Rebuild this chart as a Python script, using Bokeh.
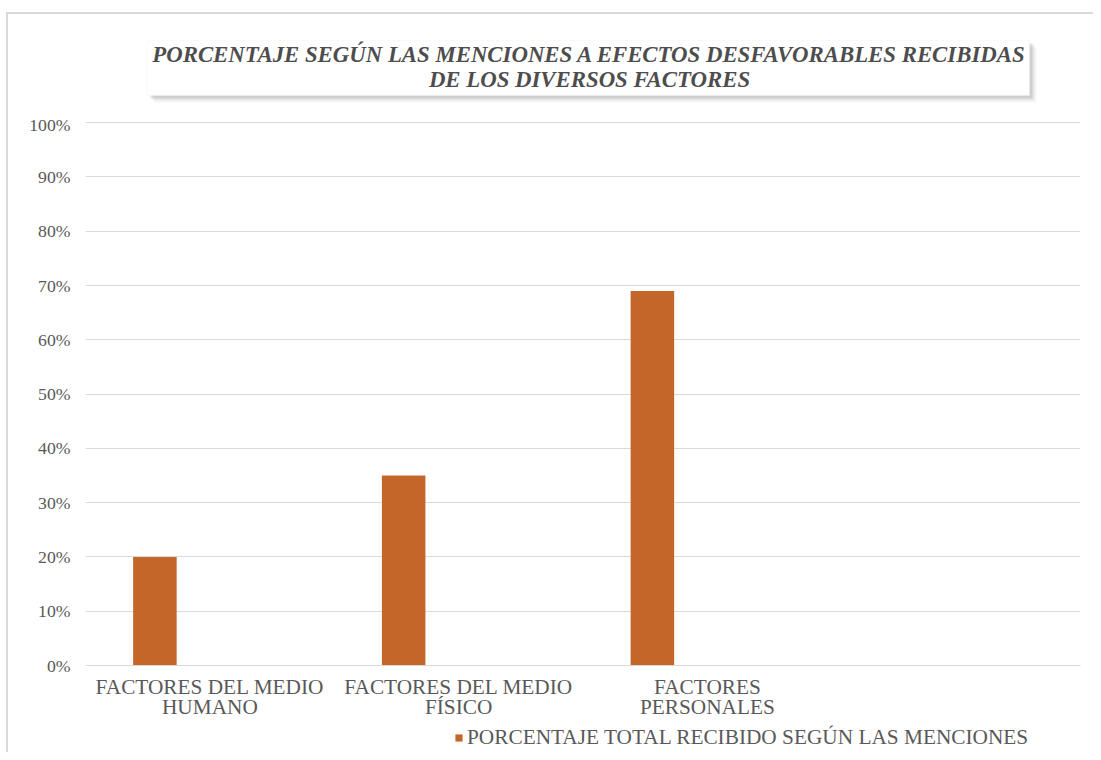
from bokeh.plotting import figure
from bokeh.layouts import column
from bokeh.models import (Range1d, FixedTicker, NumeralTickFormatter, Label,
                          BoxAnnotation, Legend, LegendItem, ColumnDataSource)
from bokeh.transform import dodge
from bokeh.embed import file_html
from bokeh.resources import INLINE

# ---- data ----
categories = ["FACTORES DEL MEDIO\nHUMANO", "FACTORES DEL MEDIO\nFÍSICO",
              "FACTORES\nPERSONALES", ""]
values = [0.20, 0.35, 0.69]
series_name = "PORCENTAJE TOTAL RECIBIDO SEGÚN LAS MENCIONES"
title_text = ("PORCENTAJE SEGÚN LAS MENCIONES A EFECTOS DESFAVORABLES RECIBIDAS\n"
              "DE LOS DIVERSOS FACTORES")
y_ticks = [0, 0.1, 0.2, 0.3, 0.4, 0.5, 0.6, 0.7, 0.8, 0.9, 1.0]

FONT = "Liberation Serif"
GRAY = "#595959"
GRID = "#d9d9d9"
BAR = "#c4662a"
W = 1093
FRAME_LEFT = 85
FRAME_RIGHT_PAD = 13


def sbox(**kw):
    return BoxAnnotation(left_units="screen", right_units="screen",
                         top_units="screen", bottom_units="screen", **kw)


def strip_fig(h):
    f = figure(width=W, height=h, output_backend="svg", toolbar_location=None,
               x_axis_type=None, y_axis_type=None,
               x_range=Range1d(0, len(categories)), y_range=Range1d(10, 11),
               min_border_left=FRAME_LEFT, min_border_right=FRAME_RIGHT_PAD,
               min_border_top=0, min_border_bottom=0)
    f.outline_line_color = None
    f.grid.visible = False
    f.border_fill_alpha = 0
    f.background_fill_alpha = 0
    return f


# ---- title strip (frame is aligned with the chart frame by the column) ----
TH = 114
tf = strip_fig(TH)
bl, br, bt, bb = 147 - FRAME_LEFT, 1029 - FRAME_LEFT, TH - 40, TH - 95
for off, a in [(7, 0.07), (5, 0.13), (3, 0.22)]:
    tf.add_layout(sbox(left=bl + off, right=br + off, top=bt - off, bottom=bb - off,
                       fill_color="#7f7f7f", fill_alpha=a, line_color=None))
tf.add_layout(sbox(left=bl, right=br, top=bt, bottom=bb, fill_color="white",
                   fill_alpha=1, line_color="#eeeeee"))
tf.add_layout(Label(x=(bl + br) / 2 + 1, y=TH - 66, x_units="screen", y_units="screen",
                    text=title_text, text_align="center", text_baseline="middle",
                    text_font=FONT, text_font_style="bold italic", text_font_size="22.8px",
                    text_color="#4d4d4d", text_line_height=1.0))

# ---- main chart ----
positions = [i + 0.5 for i in range(len(categories))]
source = ColumnDataSource(dict(x=positions[:len(values)], top=values))

MH = 609
p = figure(width=W, height=MH, output_backend="svg", toolbar_location=None,
           x_range=Range1d(0, len(categories)), y_range=Range1d(0, 1.004),
           min_border_left=FRAME_LEFT, min_border_right=FRAME_RIGHT_PAD, min_border_top=6,
           min_border_bottom=58)
p.outline_line_color = None
p.background_fill_color = "white"
p.border_fill_alpha = 0

bar_kw = dict(x=dodge("x", -0.221), top="top", width=0.175, source=source,
              fill_color=BAR, line_color=None)
r = p.vbar(**bar_kw)

p.xgrid.grid_line_color = None
p.ygrid.grid_line_color = GRID
p.ygrid.grid_line_width = 1
p.yaxis.ticker = FixedTicker(ticks=y_ticks)
p.yaxis.formatter = NumeralTickFormatter(format="0%")
p.yaxis.axis_line_color = None
p.yaxis.major_tick_line_color = None
p.yaxis.minor_tick_line_color = None
p.yaxis.major_tick_out = 0
p.yaxis.minor_tick_out = 0
p.yaxis.major_label_standoff = 15
p.yaxis.major_label_text_font = FONT
p.yaxis.major_label_text_font_size = "17.7px"
p.yaxis.major_label_text_color = GRAY

p.xaxis.ticker = FixedTicker(ticks=positions)
p.xaxis.major_label_overrides = {pos: lab for pos, lab in zip(positions, categories)}
p.xaxis.axis_line_color = GRID
p.xaxis.major_tick_line_color = None
p.xaxis.minor_tick_line_color = None
p.xaxis.major_tick_out = 0
p.xaxis.minor_tick_out = 0
p.xaxis.major_label_standoff = 9
p.xaxis.major_label_text_font = FONT
p.xaxis.major_label_text_font_size = "21.3px"
p.xaxis.major_label_text_color = GRAY
p.xaxis.major_label_text_line_height = 0.87

# ---- legend strip: same series drawn out of view; only its legend entry shows ----
lf = strip_fig(752 - TH - MH)
r_leg = lf.vbar(**bar_kw)
legend = Legend(items=[LegendItem(label=series_name, renderers=[r_leg])],
                location=(454 - FRAME_LEFT, 2), glyph_width=9, glyph_height=9,
                label_standoff=4, padding=0, margin=0, spacing=0, label_height=20,
                border_line_color=None, background_fill_alpha=0,
                label_text_font=FONT, label_text_font_size="21.3px",
                label_text_color=GRAY)
lf.add_layout(legend)

layout = column(tf, p, lf, spacing=0, styles={
    "background-image": "linear-gradient(#d9d9d9, #d9d9d9), linear-gradient(#d9d9d9, #d9d9d9)",
    "background-size": "2px 100%, 100% 2px",
    "background-position": "6px 12px, 6px 12px",
    "background-repeat": "no-repeat",
})

open("out.html", "w").write(file_html(layout, INLINE))
